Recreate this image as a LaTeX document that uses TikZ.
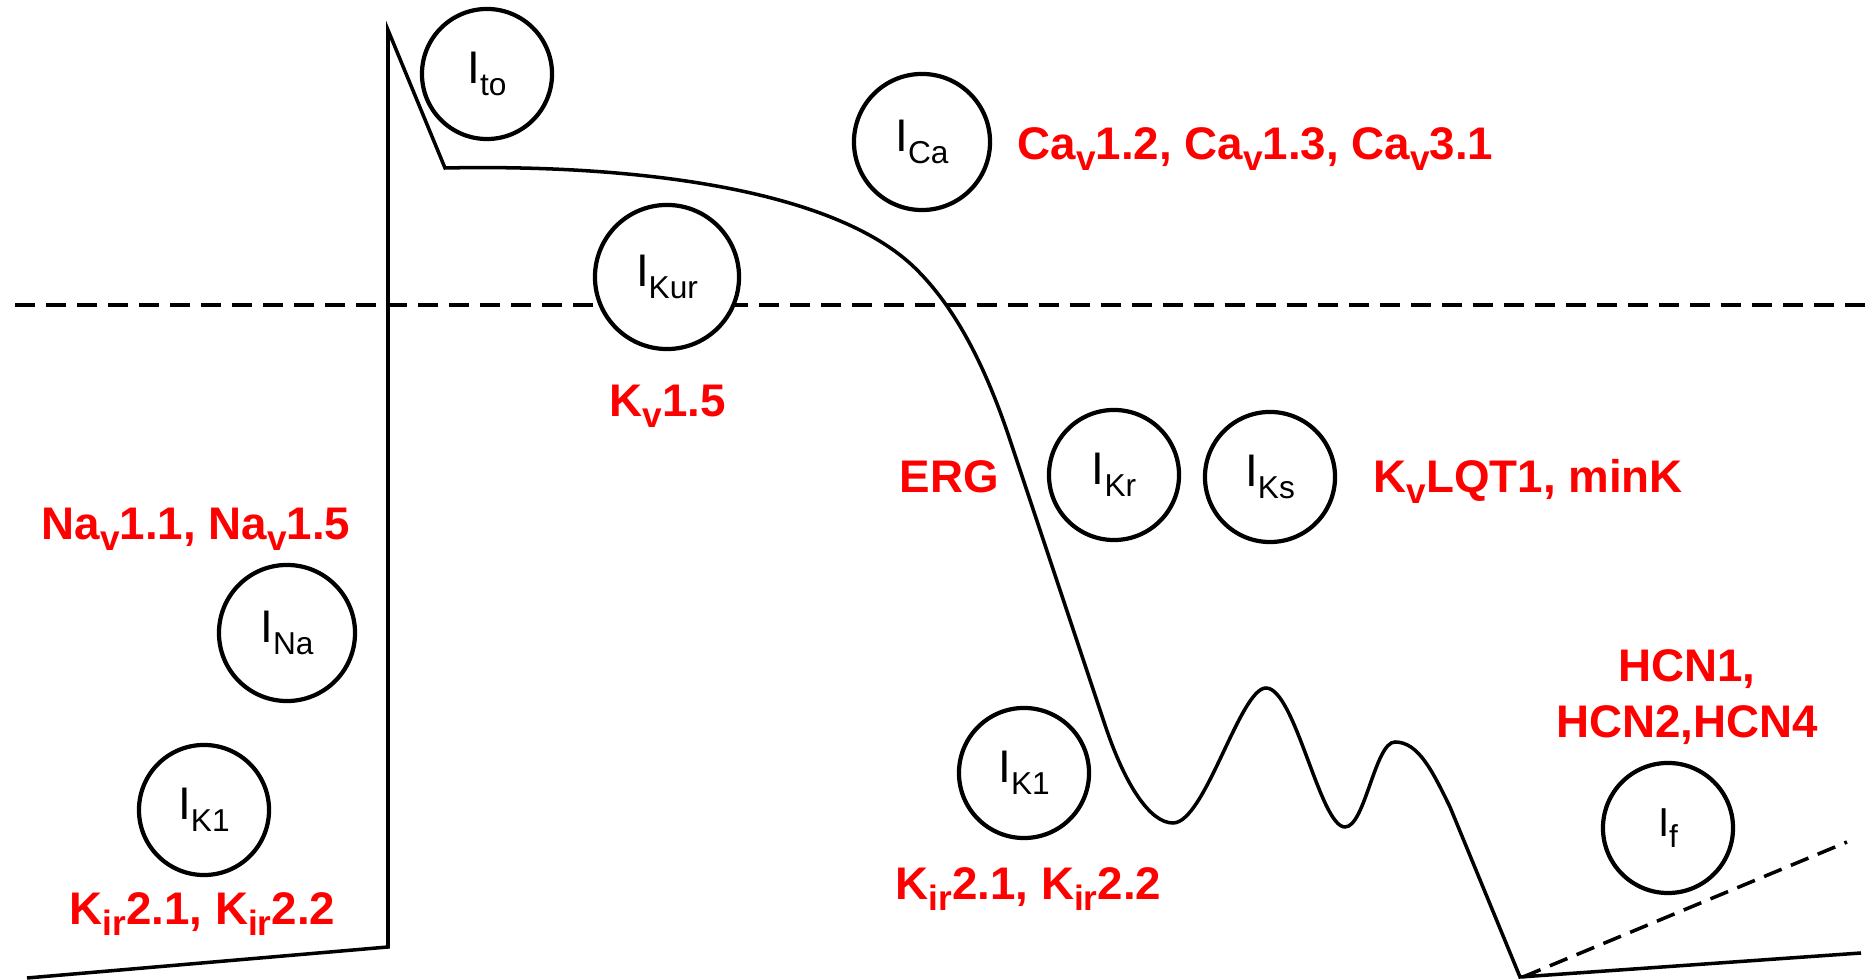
\documentclass[tikz,border=0pt]{standalone}
\usepackage{fontspec}
\setmainfont{Liberation Sans}
\definecolor{apred}{RGB}{255,0,0}
\newcommand{\cur}[1]{I\raisebox{-0.26em}{\fontsize{9}{9}\selectfont #1}}
\newcommand{\chsub}[1]{\raisebox{-0.24em}{\fontsize{10}{10}\selectfont #1}}
\tikzset{
    apring/.style={draw, circle, line width=1.2pt, fill=white, inner sep=0pt,
        minimum size=1.30cm, font=\fontsize{13}{15}\selectfont},
    aplabel/.style={text=apred, inner sep=0pt, anchor=base west,
        font=\fontsize{13}{15.9}\selectfont\bfseries},
    apcurve/.style={line width=1pt},
    apthreshold/.style={line width=1.3pt, dash pattern=on 0.2cm off 0.11cm},
    apfunny/.style={line width=1pt, dash pattern=on 0.19cm off 0.1cm}
}

\begin{document}
\begin{tikzpicture}[x=0.01cm, y=-0.01cm]
    \useasboundingbox (0,0) rectangle (1872,980);

    % threshold level
    \draw[apthreshold] (15,305) -- (1865,305);

    % action potential
    \draw[apcurve] (27,978) -- (388,947) -- (388,30) -- (445,168)
        .. controls (640,164) and (835,190) .. (915,268)
        .. controls (955,307) and (985,365) .. (1010,440)
        -- (1105,725)
        .. controls (1125,785) and (1150,823) .. (1173,823)
        .. controls (1205,823) and (1240,688) .. (1266,688)
        .. controls (1295,688) and (1320,827) .. (1345,827)
        .. controls (1365,827) and (1375,742) .. (1395,742)
        .. controls (1418,742) and (1432,770) .. (1450,807)
        -- (1520,977) -- (1861,953);
    \draw[apfunny] (1523,977) -- (1847,842);

    % currents
    \node[apring] (ito) at (487,74) {\cur{to}};
    \node[apring, minimum size=1.36cm] (ica) at (922,142) {\cur{Ca}};
    \node[apring, minimum size=1.44cm] (ikur) at (667,277) {\cur{Kur}};
    \node[apring] (ikr) at (1114,475) {\cur{Kr}};
    \node[apring] (iks) at (1270,477) {\cur{Ks}};
    \node[apring, minimum size=1.36cm] (ina) at (287,633) {\cur{Na}};
    \node[apring] (ikone) at (204,810) {\cur{K1}};
    \node[apring] (iktwo) at (1024,773) {\cur{K1}};
    \node[apring, font=\fontsize{11.5}{13}\selectfont] (ifunny) at (1668,828) {\cur{f}};

    % channels
    \node[aplabel] (cav) at (1017,160)
        {Ca\chsub{v}1.2, Ca\chsub{v}1.3, Ca\chsub{v}3.1};
    \node[aplabel] (kvone) at (609,417) {K\chsub{v}1.5};
    \node[aplabel] (erg) at (899,493) {ERG};
    \node[aplabel] (kvlqt) at (1373,493) {K\chsub{v}LQT1, minK};
    \node[aplabel] (nav) at (41,540) {Na\chsub{v}1.1, Na\chsub{v}1.5};
    \node[aplabel] (kirone) at (69,925) {K\chsub{ir}2.1, K\chsub{ir}2.2};
    \node[aplabel] (kirtwo) at (895,900) {K\chsub{ir}2.1, K\chsub{ir}2.2};
    \node[aplabel, anchor=north, align=center] (hcn) at (1687,649)
        {HCN1,\\HCN2,HCN4};
\end{tikzpicture}
\end{document}
